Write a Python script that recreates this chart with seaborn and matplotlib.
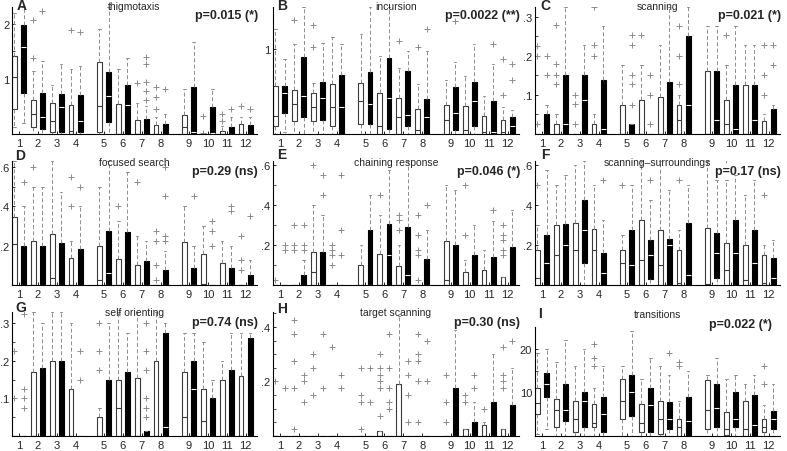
import numpy as np
import pandas as pd
import matplotlib

matplotlib.use("Agg")
import matplotlib.pyplot as plt  # noqa: E402
import seaborn as sns  # noqa: E402

DAYS = list(range(1, 13))
# dias em tres blocos de quatro, com um espaco entre os blocos
POS = [d + 0.5 * ((d - 1) // 4) for d in DAYS]

# cada caixa: (bigode inferior, q1, mediana, q3, bigode superior)
thig_w = [(0.12, 0.46, 1.04, 1.42, 2.2), (0, 0.12, 0.36, 0.61, 1.14), (0, 0.03, 0.24, 0.56, 0.88),
          (0, 0, 0.05, 0.53, 1.18), (0, 0.03, 0.51, 1.30, 1.9), (0, 0, 0, 0.55, 1.17),
          (0, 0, 0, 0.26, 0.57), (0, 0, 0, 0.17, 0.30), (0, 0, 0.13, 0.35, 0.82),
          (0, 0, 0, 0, 0), (0, 0, 0, 0.06, 0.15), (0, 0, 0, 0.19, 0.30)]
thig_b = [(0.2, 0.75, 1.57, 1.98, 2.3), (0, 0.09, 0.30, 0.74, 1.32), (0, 0.03, 0.48, 0.72, 1.27),
          (0, 0.03, 0.24, 0.70, 1.23), (0, 0.21, 0.69, 1.12, 2.3), (0, 0, 0.52, 0.88, 1.37),
          (0, 0, 0, 0.28, 0.50), (0, 0, 0, 0.18, 0.36), (0, 0, 0.04, 0.86, 1.66),
          (0, 0, 0.02, 0.48, 0.81), (0, 0, 0, 0.12, 0.30), (0, 0, 0, 0.17, 0.30)]
thig_w_out = [[], [2.06, 1.38], [], [1.88], [], [], [0.93], [0.86, 0.67, 0.45], [], [0.32, 0.02],
              [0.36, 0.24], [0.5]]
thig_b_out = [[], [2.22], [], [1.85], [], [], [1.40, 1.27, 0.95, 0.78, 0.62], [0.82], [], [],
              [0.45], [0.45]]

incu_w = [(0, 0.10, 0.21, 0.57, 1.24), (0, 0.15, 0.35, 0.52, 1.06), (0, 0.15, 0.32, 0.49, 0.60),
          (0, 0.09, 0.32, 0.59, 1.15), (0, 0.12, 0.39, 0.60, 1.18), (0, 0, 0.10, 0.48, 0.92),
          (0, 0, 0.20, 0.43, 0.78), (0, 0, 0.05, 0.30, 0.59), (0, 0, 0.17, 0.34, 0.64),
          (0, 0, 0.05, 0.33, 0.68), (0, 0, 0.02, 0.21, 0.45), (0, 0, 0.02, 0.16, 0.32)]
incu_b = [(0.02, 0.25, 0.48, 0.57, 0.88), (0, 0.20, 0.45, 0.91, 1.5), (0, 0.17, 0.43, 0.61, 1.08),
          (0, 0, 0.32, 0.70, 1.06), (0, 0.12, 0.36, 0.73, 1.5), (0, 0.06, 0.42, 0.90, 1.5),
          (0, 0.09, 0.23, 0.75, 0.98), (0, 0, 0.20, 0.41, 0.98), (0, 0.05, 0.25, 0.55, 0.85),
          (0, 0.10, 0.39, 0.62, 1.06), (0, 0, 0.02, 0.39, 0.83), (0, 0, 0.09, 0.20, 0.28)]
incu_w_out = [[], [1.35], [1.29, 1.03], [], [], [], [1.1], [1.03], [], [], [], [0.88, 0.46]]
incu_b_out = [[], [], [], [], [], [], [], [1.24], [1.33], [], [1.06], [0.83, 0.64]]

scan_w = [(0, 0, 0, 0, 0), (0, 0, 0, 0.026, 0.052), (0, 0, 0, 0, 0), (0, 0, 0, 0.026, 0.052),
          (0, 0, 0, 0.075, 0.177), (0, 0, 0, 0.086, 0.177), (0, 0, 0, 0.095, 0.227),
          (0, 0, 0.037, 0.075, 0.10), (0, 0, 0, 0.162, 0.277), (0, 0, 0.026, 0.088, 0.177),
          (0, 0, 0, 0.125, 0.227), (0, 0, 0, 0.032, 0.052)]
scan_b = [(0, 0, 0, 0.052, 0.075), (0, 0, 0.026, 0.15, 0.325), (0, 0, 0.086, 0.15, 0.227),
          (0, 0, 0.013, 0.138, 0.277), (0, 0, 0, 0.026, 0.026), (0, 0, 0, 0, 0),
          (0, 0, 0, 0.134, 0.325), (0, 0, 0.075, 0.25, 0.325), (0, 0, 0.037, 0.162, 0.277),
          (0, 0, 0.013, 0.125, 0.277), (0, 0, 0.037, 0.125, 0.227), (0, 0, 0, 0.065, 0.075)]
scan_w_out = [[0.225, 0.2, 0.026], [0.28, 0.18, 0.15, 0.127], [0.10, 0.078, 0.026],
              [0.326, 0.227, 0.2], [], [0.253], [], [0.277, 0.2, 0.127], [], [0.253], [],
              [0.227, 0.15, 0.10]]
scan_b_out = [[0.2, 0.15], [], [], [], [0.253, 0.227, 0.15, 0.127, 0.075], [0.15, 0.10, 0.026],
              [], [], [], [], [], [0.227, 0.177]]

focu_w = [(0, 0, 0.208, 0.347, 0.63), (0, 0, 0, 0.225, 0.5), (0, 0, 0.038, 0.26, 0.63),
          (0, 0, 0, 0.135, 0.225), (0, 0, 0.025, 0.2, 0.5), (0, 0, 0, 0.13, 0.325),
          (0, 0, 0, 0.1, 0.25), (0, 0, 0, 0, 0), (0, 0, 0, 0.22, 0.4),
          (0, 0, 0.005, 0.16, 0.3), (0, 0, 0, 0.11, 0.225), (0, 0, 0, 0, 0)]
focu_b = [(0, 0, 0, 0.2, 0.4), (0, 0, 0, 0.2, 0.5), (0, 0, 0, 0.213, 0.475),
          (0, 0, 0, 0.185, 0.4), (0, 0, 0.063, 0.275, 0.63), (0, 0, 0, 0.267, 0.575),
          (0, 0, 0, 0.12, 0.225), (0, 0, 0, 0.075, 0.175), (0, 0, 0, 0.085, 0.2),
          (0, 0, 0, 0, 0), (0, 0, 0, 0.085, 0.2), (0, 0, 0, 0.05, 0.125)]
focu_w_out = [[], [0.6], [], [0.547, 0.4], [], [0.4], [0.525], [0.275, 0.225, 0.1, 0.025], [], [],
              [], [0.25, 0.125, 0.075]]
focu_b_out = [[0.525], [], [], [0.5], [], [], [], [0.6, 0.45, 0.25, 0.225], [0.45],
              [0.325, 0.275, 0.2], [0.4, 0.375], [0.35]]

chai_w = [(0, 0, 0, 0, 0), (0, 0, 0, 0, 0), (0, 0, 0.065, 0.165, 0.4), (0, 0, 0, 0, 0),
          (0, 0, 0, 0.1, 0.2), (0, 0, 0, 0.155, 0.35), (0, 0, 0, 0.095, 0.2), (0, 0, 0, 0, 0),
          (0, 0, 0.025, 0.22, 0.5), (0, 0, 0, 0.065, 0.125), (0, 0, 0, 0.075, 0.175),
          (0, 0, 0, 0.04, 0.04)]
chai_b = [(0, 0, 0, 0, 0), (0, 0, 0, 0.05, 0.125), (0, 0, 0, 0.165, 0.35), (0, 0, 0, 0, 0),
          (0, 0, 0, 0.275, 0.45), (0, 0, 0.15, 0.305, 0.575), (0, 0, 0.05, 0.29, 0.62),
          (0, 0, 0, 0.13, 0.275), (0, 0, 0, 0.2, 0.475), (0, 0, 0, 0.15, 0.3),
          (0, 0, 0, 0.14, 0.32), (0, 0, 0, 0.19, 0.375)]
chai_w_out = [[0.025], [0.3, 0.2, 0.175], [0.6], [0.2, 0.175, 0.15, 0.1], [], [0.45],
              [0.35, 0.325, 0.275], [0.35, 0.25, 0.175, 0.15, 0.025], [], [0.5, 0.25], [],
              [0.3, 0.25, 0.225, 0.175, 0.15]]
chai_b_out = [[0.2, 0.175], [0.3, 0.2, 0.175], [0.55, 0.45], [0.55, 0.275, 0.15], [], [], [],
              [0.4], [], [], [0.375], []]

surr_w = [(0, 0, 0.035, 0.175, 0.3), (0, 0, 0.15, 0.3, 0.5), (0, 0, 0.175, 0.31, 0.6),
          (0, 0, 0.175, 0.28, 0.5), (0, 0, 0.11, 0.175, 0.25), (0, 0, 0.125, 0.325, 0.62),
          (0, 0, 0.1, 0.275, 0.62), (0, 0, 0.01, 0.175, 0.275), (0, 0, 0.005, 0.285, 0.62),
          (0, 0, 0.075, 0.21, 0.525), (0, 0, 0.025, 0.2, 0.45), (0, 0, 0.01, 0.15, 0.2)]
surr_b = [(0, 0, 0.11, 0.25, 0.575), (0, 0, 0.2, 0.305, 0.55), (0, 0.11, 0.275, 0.425, 0.62),
          (0, 0, 0.06, 0.16, 0.325), (0, 0, 0.1, 0.275, 0.5), (0, 0.03, 0.15, 0.225, 0.425),
          (0, 0, 0.2, 0.23, 0.475), (0, 0, 0.05, 0.31, 0.5), (0, 0.035, 0.16, 0.26, 0.525),
          (0, 0, 0.16, 0.325, 0.55), (0, 0, 0.11, 0.275, 0.525), (0, 0, 0.035, 0.135, 0.225)]
surr_w_out = [[0.5], [], [], [], [0.5], [], [], [0.525], [], [0.625], [], [0.45]]
surr_b_out = [[], [], [], [0.525], [], [0.525], [], [], [], [], [], []]

self_w = [(0, 0, 0, 0, 0), (0, 0, 0, 0.17, 0.33), (0, 0, 0, 0.2, 0.33), (0, 0, 0, 0.125, 0.3),
          (0, 0, 0, 0.05, 0.075), (0, 0, 0.075, 0.15, 0.33), (0, 0, 0, 0.155, 0.33),
          (0, 0, 0, 0.2, 0.33), (0, 0, 0.05, 0.17, 0.275), (0, 0, 0.04, 0.125, 0.25),
          (0, 0, 0, 0.15, 0.2), (0, 0, 0, 0.16, 0.275)]
self_b = [(0, 0, 0, 0, 0), (0, 0, 0, 0.18, 0.3), (0, 0, 0, 0.2, 0.33), (0, 0, 0, 0, 0),
          (0, 0, 0, 0.15, 0.3), (0, 0, 0, 0.17, 0.275), (0, 0, 0, 0.012, 0.012),
          (0, 0, 0.025, 0.275, 0.3), (0, 0, 0.125, 0.2, 0.275), (0, 0, 0, 0.1, 0.15),
          (0, 0, 0, 0.175, 0.275), (0, 0, 0, 0.262, 0.275)]
self_w_out = [[0.225, 0.1], [], [], [], [0.3, 0.225, 0.175], [], [], [], [], [], [], []]
self_b_out = [[0.325, 0.125, 0.1, 0.075], [], [], [0.225, 0.15], [], [],
              [0.3, 0.225, 0.175, 0.1, 0.075, 0.05], [], [], [], [], []]

targ_w = [(0, 0, 0, 0, 0), (0, 0, 0, 0, 0), (0, 0, 0, 0, 0), (0, 0, 0, 0, 0), (0, 0, 0, 0, 0),
          (0, 0, 0, 0.02, 0.02), (0, 0, 0, 0.19, 0.44), (0, 0, 0, 0, 0), (0, 0, 0, 0, 0),
          (0, 0, 0, 0.025, 0.025), (0, 0, 0, 0.04, 0.05), (0, 0, 0, 0.025, 0.025)]
targ_b = [(0, 0, 0, 0, 0), (0, 0, 0, 0, 0), (0, 0, 0, 0, 0), (0, 0, 0, 0, 0), (0, 0, 0, 0, 0),
          (0, 0, 0, 0, 0), (0, 0, 0, 0, 0), (0, 0, 0, 0, 0), (0, 0, 0, 0.175, 0.39),
          (0, 0, 0, 0.05, 0.125), (0, 0, 0, 0.125, 0.3), (0, 0, 0, 0.115, 0.25)]
targ_w_out = [[0.2], [0.425, 0.375, 0.275, 0.175, 0.025], [0.3, 0.25, 0.15], [0.325],
              [0.25, 0.15, 0.125, 0.025], [0.3, 0.25, 0.225, 0.2, 0.175, 0.075], [],
              [0.375, 0.3, 0.275, 0.2, 0.05], [0.225, 0.125, 0.05], [0.15, 0.125], [0.1],
              [0.325, 0.225, 0.2, 0.175]]
targ_b_out = [[0.175], [0.225, 0.2, 0.125], [0.375, 0.175], [0.225, 0.175], [0.25, 0.125],
              [0.375, 0.25, 0.175, 0.125, 0.1], [0.275, 0.225, 0.15, 0.05], [0.35, 0.2], [],
              [0.225, 0.175], [], [0.35]]

tran_w = [(0.5, 5, 7.5, 11, 19), (0, 2, 6, 8.5, 17), (0, 1, 4, 8, 16), (0, 2, 3, 7.3, 11),
          (0, 4, 8, 13, 16), (0, 1, 3, 7.3, 13), (0, 0.5, 4, 8, 16), (0, 0, 2, 3.8, 8),
          (0, 1.5, 6, 12.8, 14), (0, 0.3, 1.5, 5.5, 13), (0, 0, 1.5, 8, 12), (0, 1, 2, 4, 7)]
tran_b = [(1.5, 9, 12, 14.5, 20), (0, 3.5, 6, 12, 22), (0, 2, 8, 10, 20), (0, 1, 5, 9, 16),
          (0, 4.5, 10, 14, 24), (0, 1, 7, 11, 18), (0, 1.5, 4, 7.8, 14), (0, 0, 3.5, 9, 15),
          (0, 2, 6.5, 12, 18), (0, 2, 4, 10, 14), (0, 0, 2.5, 9.5, 14), (0, 1.5, 4, 5.8, 12)]
tran_w_out = [[], [], [], [21, 18, 16], [], [], [], [17, 16], [], [], [], [16, 12]]
tran_b_out = [[], [], [], [], [], [], [19], [], [], [], [], []]

PANELS = [
    ("A", "thigmotaxis", "p=0.015 (*)", thig_w, thig_b, thig_w_out, thig_b_out),
    ("B", "incursion", "p=0.0022 (**)", incu_w, incu_b, incu_w_out, incu_b_out),
    ("C", "scanning", "p=0.021 (*)", scan_w, scan_b, scan_w_out, scan_b_out),
    ("D", "focused search", "p=0.29 (ns)", focu_w, focu_b, focu_w_out, focu_b_out),
    ("E", "chaining response", "p=0.046 (*)", chai_w, chai_b, chai_w_out, chai_b_out),
    ("F", "scanning\u2013surroundings", "p=0.17 (ns)", surr_w, surr_b, surr_w_out, surr_b_out),
    ("G", "self orienting", "p=0.74 (ns)", self_w, self_b, self_w_out, self_b_out),
    ("H", "target scanning", "p=0.30 (ns)", targ_w, targ_b, targ_w_out, targ_b_out),
    ("I", "transitions", "p=0.022 (*)", tran_w, tran_b, tran_w_out, tran_b_out),
]

# limites e ticks do eixo y (maiores com rotulo, menores sem)
YLIM = {"A": 2.3, "B": 1.5, "C": 0.325, "D": 0.63, "E": 0.62, "F": 0.62, "G": 0.33, "H": 0.455, "I": 25}
YMAJOR = {"A": [1, 2], "B": [1], "C": [0.1, 0.2, 0.3], "D": [0.2, 0.4, 0.6], "E": [0.2, 0.4, 0.6],
          "F": [0.2, 0.4, 0.6], "G": [0.1, 0.2, 0.3], "H": [0.2, 0.4], "I": [10, 20]}
YMINOR = {"A": 0.5, "B": 0.5, "C": 0.05, "D": 0.1, "E": 0.1, "F": 0.1, "G": 0.05, "H": 0.05, "I": 5}

# geometria em pixels: (esquerda, topo, direita, base)
W, H = 787, 452
COLS = [(12, 257), (273, 519), (535, 780)]
ROWS = [(8, 135), (162, 286), (313, 437)]
LETTER_XY = {"A": (22, 6), "B": (282, 6), "C": (545, 6), "D": (20, 156), "E": (282, 155),
             "F": (545, 155), "G": (21, 308), "H": (282, 309), "I": (540, 314)}
TITLE_Y = [7, 163, 313]
P_Y = [16, 172, 323]

WIDTH = 0.96
GAP = 0.48
GRAY = "#8c8c8c"


def fmt_tick(v):
    if v >= 1:
        return f"{v:g}"
    return f"{v:g}".lstrip("0")


def main():
    sns.set_theme(style="ticks")
    plt.rcParams["font.family"] = ["Liberation Sans", "DejaVu Sans"]

    fig = plt.figure(figsize=(W / 100, H / 100), dpi=100)

    for idx, (letra, titulo, ptxt, bw, bb, ow, ob) in enumerate(PANELS):
        row, col = divmod(idx, 3)
        left, right = COLS[col]
        top, bottom = ROWS[row]
        if letra == "I":
            top = 328
        ax = fig.add_axes([left / W, 1 - bottom / H, (right - left) / W, (bottom - top) / H])

        linhas = []
        for cond, stats in (("controle", bw), ("tratado", bb)):
            for p, s in zip(POS, stats):
                for v in s:
                    linhas.append((p, cond, v))
        df = pd.DataFrame(linhas, columns=["pos", "cond", "valor"])

        sns.boxplot(
            data=df, x="pos", y="valor", hue="cond", hue_order=["controle", "tratado"],
            palette={"controle": "white", "tratado": "black"}, saturation=1,
            native_scale=True, width=WIDTH, gap=GAP, whis=(0, 100), showfliers=False,
            linecolor="#3a3a3a", linewidth=0.8, legend=False, ax=ax,
            whiskerprops=dict(color=GRAY, linestyle=(0, (4, 2.5)), linewidth=0.7),
            capprops=dict(color=GRAY, linewidth=0.7),
        )
        for cont in ax.containers:
            if not hasattr(cont, "medians"):
                continue
            if cont.boxes[0].get_facecolor()[0] < 0.5:
                for m in cont.medians:
                    m.set_color("white")
                for bx in cont.boxes:
                    bx.set_edgecolor("black")

        # outliers (+) deslocados como as caixas
        off = WIDTH / 4
        pts = [(p - off, v) for p, o in zip(POS, ow) for v in o]
        pts += [(p + off, v) for p, o in zip(POS, ob) for v in o]
        if pts:
            odf = pd.DataFrame(pts, columns=["x", "valor"])
            sns.scatterplot(data=odf, x="x", y="valor", marker="+", color=GRAY, s=16,
                            linewidth=0.7, legend=False, ax=ax)

        ax.set_xlim(0.63, 13.6)
        ax.set_ylim(0, YLIM[letra])
        ax.set_xticks(POS)
        ax.set_xticklabels([str(d) for d in DAYS])
        ax.set_yticks(YMAJOR[letra])
        ax.set_yticklabels([fmt_tick(v) for v in YMAJOR[letra]])
        ax.set_yticks(np.arange(YMINOR[letra], YLIM[letra], YMINOR[letra]), minor=True)
        ax.set_xlabel("")
        ax.set_ylabel("")
        ax.tick_params(axis="both", which="major", direction="in", length=2.5, width=0.6,
                       labelsize=8, pad=2, color="black")
        ax.tick_params(axis="y", which="minor", direction="in", length=2, width=0.5, color="black")
        ax.tick_params(axis="x", which="major", pad=3)
        sns.despine(ax=ax)
        for sp in ("left", "bottom"):
            ax.spines[sp].set_linewidth(0.8)
            ax.spines[sp].set_color("black")

        lx, ly = LETTER_XY[letra]
        fig.text(lx / W, 1 - ly / H, letra, fontsize=10, fontweight="bold", ha="center", va="center")
        ty = 315 if letra == "I" else TITLE_Y[row]
        fig.text(((left + right) / 2) / W, 1 - ty / H, titulo, fontsize=7.5, ha="center", va="center")
        py = 325 if letra == "I" else P_Y[row]
        prx = right - 8 if letra == "I" else right + 1
        fig.text(prx / W, 1 - py / H, ptxt, fontsize=9, fontweight="bold", ha="right", va="center")

    fig.savefig("out.png", dpi=100)
    plt.close(fig)


if __name__ == "__main__":
    main()
